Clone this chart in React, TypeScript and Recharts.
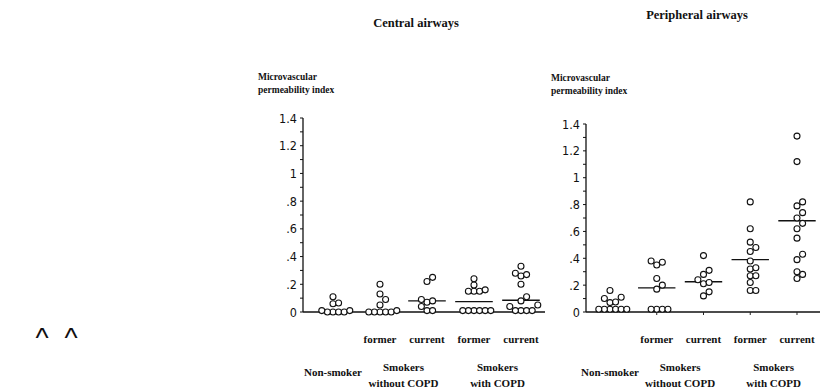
import React from "react"
import { ScatterChart, Scatter, XAxis, YAxis, ReferenceLine } from "recharts"

// y axis
const yTicks = [0, 0.1, 0.2, 0.3, 0.4, 0.5, 0.6, 0.7, 0.8, 0.9, 1, 1.1, 1.2, 1.3, 1.4]
const yTickLabels = ["0", ".2", ".4", ".6", ".8", "1", "1.2", "1.4"]

// x axis: 1 = non-smoker, 2/3 = without COPD, 4/5 = with COPD
const xTicks = [1, 2, 2.5, 3, 4, 4.5, 5]
const subLabels = ["", "former", "current", "former", "current"]
const groupLabelAt = [1, 2.5, 4.5]
const groupLabels = [["Non-smoker"], ["Smokers", "without COPD"], ["Smokers", "with COPD"]]

// Central airways
const centralNonSmoker = [0.11, 0.065, 0.06, 0.01, 0.01, 0, 0, 0, 0]
const centralFormer = [0.2, 0.13, 0.09, 0.05, 0.01, 0, 0, 0, 0, 0]
const centralCurrent = [0.25, 0.22, 0.09, 0.08, 0.07, 0.04, 0.01, 0.01]
const centralFormerCOPD = [0.24, 0.195, 0.16, 0.15, 0.15, 0.15, 0.01, 0.01, 0.01, 0.01, 0.01, 0.01]
const centralCurrentCOPD = [0.33, 0.28, 0.27, 0.26, 0.2, 0.11, 0.08, 0.05, 0.04, 0.01, 0.01, 0.01, 0.01]
const centralMeans = [null, null, 0.08, 0.075, 0.085]

// Peripheral airways
const periNonSmoker = [0.16, 0.11, 0.1, 0.075, 0.07, 0.02, 0.02, 0.02, 0.02, 0.02, 0.02]
const periFormer = [0.38, 0.37, 0.35, 0.25, 0.2, 0.17, 0.02, 0.02, 0.02, 0.02]
const periCurrent = [0.42, 0.31, 0.28, 0.24, 0.22, 0.21, 0.15, 0.12]
const periFormerCOPD = [0.82, 0.62, 0.52, 0.48, 0.45, 0.38, 0.33, 0.32, 0.27, 0.27, 0.22, 0.16, 0.16]
const periCurrentCOPD = [1.31, 1.12, 0.82, 0.79, 0.74, 0.7, 0.66, 0.62, 0.55, 0.43, 0.39, 0.3, 0.28, 0.25]
const periMeans = [null, 0.18, 0.225, 0.39, 0.68]

const serif = "'Liberation Serif', 'Times New Roman', serif"
const narrow = "'Liberation Sans Narrow', 'DejaVu Sans Condensed', sans-serif"
const X_AXIS_H = 77
const R = 3
const STEP = 5.6

type Pt = { x: number; y: number; dx: number }

// simple beeswarm: nudge dots sideways (in px) until they stop overlapping
function swarm(values: number[], group: number, pxPerUnit: number): Pt[] {
  const placed: { dx: number; py: number }[] = []
  const sorted = [...values].sort((a, b) => a - b)
  return sorted.map((v) => {
    const py = v * pxPerUnit
    let dx = 0
    for (let k = 0; k < 40; k++) {
      const cand = k === 0 ? 0 : (k % 2 ? 1 : -1) * Math.ceil(k / 2) * STEP
      if (placed.every((p) => Math.hypot(p.dx - cand, p.py - py) >= STEP - 0.01)) {
        dx = cand
        break
      }
    }
    placed.push({ dx, py })
    return { x: group, y: v, dx }
  })
}

function XTick(props: any) {
  const { x, y, payload, showTick } = props
  const v = payload.value
  const gi = groupLabelAt.indexOf(v)
  const si = Number.isInteger(v) ? v - 1 : -1
  return (
    <g>
      {showTick && si > 0 && <line x1={x} x2={x} y1={y} y2={y + 3} stroke="#222" strokeWidth={1} />}
      {si > 0 && (
        <text x={x} y={y + 31} textAnchor="middle" fontFamily={serif} fontWeight="bold" fontSize={11} fill="#111">
          {subLabels[si]}
        </text>
      )}
      {gi >= 0 &&
        groupLabels[gi].map((line, i) => (
          <text
            key={i}
            x={x}
            y={y + (groupLabels[gi].length === 1 ? 64 : 59 + i * 16)}
            textAnchor="middle"
            fontFamily={serif}
            fontWeight="bold"
            fontSize={11}
            fill="#111"
          >
            {line}
          </text>
        ))}
    </g>
  )
}

function YTick(props: any) {
  const { x, y, payload } = props
  const tenths = Math.round(payload.value * 10)
  if (tenths % 2) return <g />
  return (
    <text x={x} y={y} dy={4.5} textAnchor="end" fontFamily={narrow} fontSize={12.5} fill="#111">
      {yTickLabels[tenths / 2]}
    </text>
  )
}

type PanelProps = {
  left: number
  width: number
  marginTop: number
  marginLeft: number
  marginRight: number
  yAxisWidth: number
  xDomain: [number, number]
  groups: number[][]
  means: (number | null)[]
  showXTicks?: boolean
}

function Panel({ left, width, marginTop, marginLeft, marginRight, yAxisWidth, xDomain, groups, means, showXTicks }: PanelProps) {
  const height = 289
  const plotH = height - marginTop - X_AXIS_H
  const pxPerUnit = plotH / 1.4
  const points = groups.flatMap((vals, i) => swarm(vals, i + 1, pxPerUnit))
  return (
    <div style={{ position: "absolute", left, top: 100 }}>
      <ScatterChart width={width} height={height} margin={{ top: marginTop, right: marginRight, bottom: 0, left: marginLeft }}>
        <XAxis
          dataKey="x"
          type="number"
          domain={xDomain}
          allowDataOverflow
          ticks={xTicks}
          interval={0}
          height={X_AXIS_H}
          tickLine={false}
          tickSize={0}
          tickMargin={0}
          axisLine={{ stroke: "#111", strokeWidth: 1.3 }}
          tick={(p: any) => <XTick {...p} showTick={showXTicks} />}
        />
        <YAxis
          dataKey="y"
          type="number"
          domain={[0, 1.4]}
          ticks={yTicks}
          interval={0}
          width={yAxisWidth}
          tickSize={3}
          tickMargin={3}
          tickLine={{ stroke: "#111" }}
          axisLine={{ stroke: "#111", strokeWidth: 1.3 }}
          tick={(p: any) => <YTick {...p} />}
        />
        {means.map((m, i) =>
          m == null ? null : (
            <ReferenceLine
              key={i}
              segment={[
                { x: i + 1 - 0.4, y: m },
                { x: i + 1 + 0.4, y: m },
              ]}
              stroke="#111"
              strokeWidth={1.4}
            />
          )
        )}
        <Scatter
          data={points}
          isAnimationActive={false}
          shape={(p: any) => (
            <circle cx={p.cx + p.payload.dx} cy={p.cy} r={R} fill="#fff" stroke="#111" strokeWidth={1.1} />
          )}
        />
      </ScatterChart>
    </div>
  )
}

export default function App() {
  const txt = { fontFamily: serif, fontWeight: "bold" as const, fill: "#111" }
  return (
    <div style={{ position: "absolute", left: 0, top: 0, width: 823, height: 389, background: "#fff", overflow: "hidden" }}>
      <svg width={823} height={389} style={{ position: "absolute", left: 0, top: 0 }}>
        <text x={416} y={27} textAnchor="middle" fontSize={12.5} {...txt}>Central airways</text>
        <text x={697} y={19} textAnchor="middle" fontSize={12.5} {...txt}>Peripheral airways</text>
        <text x={258} y={80} fontSize={9.5} {...txt}>Microvascular</text>
        <text x={258} y={93} fontSize={9.5} {...txt}>permeability index</text>
        <text x={551} y={81} fontSize={9.5} {...txt}>Microvascular</text>
        <text x={551} y={94} fontSize={9.5} {...txt}>permeability index</text>
        <text x={42} y={347} textAnchor="middle" fontFamily="'Liberation Sans', sans-serif" fontSize={28} fill="#111">^</text>
        <text x={71} y={347} textAnchor="middle" fontFamily="'Liberation Sans', sans-serif" fontSize={28} fill="#111">^</text>
      </svg>
      <Panel
        left={240}
        width={320}
        marginTop={18}
        marginLeft={15}
        marginRight={15}
        yAxisWidth={48}
        xDomain={[0.362, 5.511]}
        groups={[centralNonSmoker, centralFormer, centralCurrent, centralFormerCOPD, centralCurrentCOPD]}
        means={centralMeans}
      />
      <Panel
        left={530}
        width={293}
        marginTop={24}
        marginLeft={0}
        marginRight={3}
        yAxisWidth={56}
        xDomain={[0.487, 5.492]}
        groups={[periNonSmoker, periFormer, periCurrent, periFormerCOPD, periCurrentCOPD]}
        means={periMeans}
        showXTicks
      />
    </div>
  )
}
